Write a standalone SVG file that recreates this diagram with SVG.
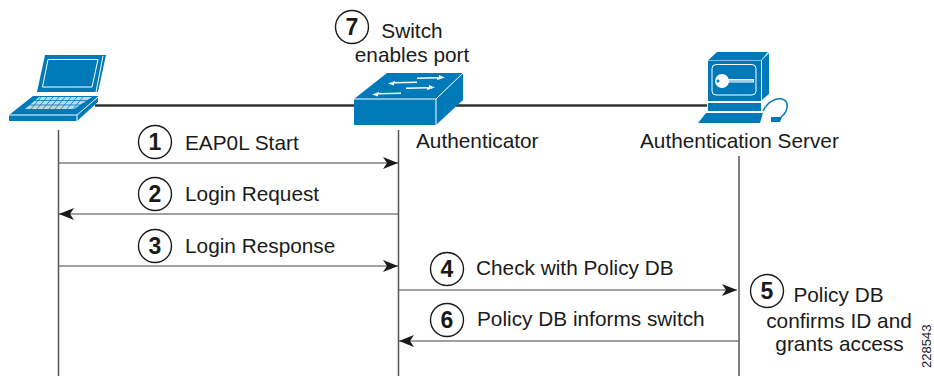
<svg xmlns="http://www.w3.org/2000/svg" width="934" height="376" viewBox="0 0 934 376">
<style>
text{font-family:"Liberation Sans",Arial,sans-serif;font-size:20.8px;fill:#1a1a1a}
.n{font-weight:bold;font-size:23px;text-anchor:middle}
.c{fill:#fff;stroke:#1a1a1a;stroke-width:1.4}
.l{stroke:#555;stroke-width:1.5;fill:none}
.a{stroke:#444;stroke-width:1.2;fill:none;marker-end:url(#ah)}
.b{stroke:#333;stroke-width:2.6;fill:none}
.m{text-anchor:middle}
.f{fill:#0079b8}
.w{fill:none;stroke:#fff;stroke-width:1}
.w2{fill:#fff;stroke:none}
</style>
<defs>
<marker id="ah" markerUnits="userSpaceOnUse" markerWidth="16" markerHeight="12" refX="15" refY="6" orient="auto"><path d="M0 0L15 6L0 12L4 6Z" fill="#1a1a1a"/></marker>
</defs>
<g id="connectors">
<path class="b" d="M95 105.500H354M456 105.500H707"/>
<path class="l" d="M58.500 130V376M398.500 130V376M739 156V376"/>
<path class="a" d="M59 163H398"/>
<path class="a" d="M398 214H59"/>
<path class="a" d="M59 266H398"/>
<path class="a" d="M399 290H737"/>
<path class="a" d="M739 341H399"/>
</g>
<g id="laptop">
<path class="f" d="M45 55H106L98 92H37Z"/>
<path class="w" d="M48 59.500H98L92 87H42.500Z"/>
<path class="w" d="M103 56L96 92"/>
<path class="f" d="M9 115L33 96H98V102L77 121H9Z"/>
<path d="M25 109L39 97H92L74 109Z" fill="#b9dcec"/>
<path d="M34 100.500H88M29 105H83M41 97L31 109M47 97L37 109M53 97L43 109M59 97L49 109M65 97L55 109M71 97L61 109M77 97L67 109M83 97L73 109" stroke="#0079b8" stroke-width=".8" fill="none"/>
<path class="w" d="M9 115H77L98 97M77 115V121"/>
</g>
<g id="switch">
<path class="f" d="M354 99L387 73H463L436 99Z"/>
<path class="f" d="M354 99H436V125H354Z"/>
<path class="f" d="M436 99L463 73V100L436 125Z"/>
<path class="w" d="M354 99H436L463 73M436 99V125"/>
<path class="w2" d="M417 77.500L439 77V75L445 77.500L437 80V78.500L417 79ZM406 87.500L429 87V85L435 87.500L427 90V88.500L406 89ZM417 81.500V83L394 83.500V85.500L388 83.500L395 81V82ZM401 92.500V94L378 94.500V96.500L372 94.500L379 92V93Z"/>
</g>
<g id="server">
<path class="f" d="M708 60.500L717 52H768L761 60.500Z"/>
<path class="f" d="M708 61H761V101H708Z"/>
<path class="f" d="M762 60L769 53V94L762 100Z"/>
<path class="f" d="M708 103H761V111H708Z"/>
<path class="f" d="M706 113H763L760 123H698Z"/>
<path class="f" d="M771 117H782L780 122H771Z"/>
<path d="M763 111C768 101 776 98 782 99C790 101 788 112 781 117" fill="none" stroke="#0079b8" stroke-width="1.500"/>
<rect class="w" x="712" y="64.500" width="44" height="30.500" rx="4"/>
<circle cx="722" cy="81" r="7" class="w2"/>
<path class="w2" d="M727 79H754V82.500H727Z"/>
<circle cx="718" cy="81" r="1.500" fill="#0079b8"/>
<path d="M729 81H753" stroke="#0079b8" stroke-width=".7"/>
</g>
<g id="step1"><circle class="c" cx="155" cy="142" r="16.500"/><text class="n" x="155" y="150">1</text><text x="185" y="150">EAP0L Start</text></g>
<g id="step2"><circle class="c" cx="155" cy="194" r="16.500"/><text class="n" x="155" y="202">2</text><text x="185" y="201">Login Request</text></g>
<g id="step3"><circle class="c" cx="155" cy="246" r="16.500"/><text class="n" x="155" y="254">3</text><text x="185" y="253">Login Response</text></g>
<g id="step4"><circle class="c" cx="447" cy="269" r="16.500"/><text class="n" x="447" y="277">4</text><text x="476" y="275">Check with Policy DB</text></g>
<g id="step5"><circle class="c" cx="767" cy="291" r="16.500"/><text class="n" x="767" y="299">5</text><text class="m" x="838.500" y="302">Policy DB</text><text class="m" x="839" y="328">confirms ID and</text><text class="m" x="839.500" y="351">grants access</text></g>
<g id="step6"><circle class="c" cx="447" cy="320" r="16.500"/><text class="n" x="447" y="328">6</text><text x="477" y="326">Policy DB informs switch</text></g>
<g id="step7"><circle class="c" cx="352" cy="27" r="16.500"/><text class="n" x="352" y="35">7</text><text class="m" x="412" y="38">Switch</text><text class="m" x="412" y="62">enables port</text></g>
<text id="authenticator" x="416" y="148">Authenticator</text>
<text id="auth-server" x="640" y="148">Authentication Server</text>
<text id="figure-number" transform="translate(931 368) rotate(-90)" style="font-size:13px">228543</text>
</svg>
